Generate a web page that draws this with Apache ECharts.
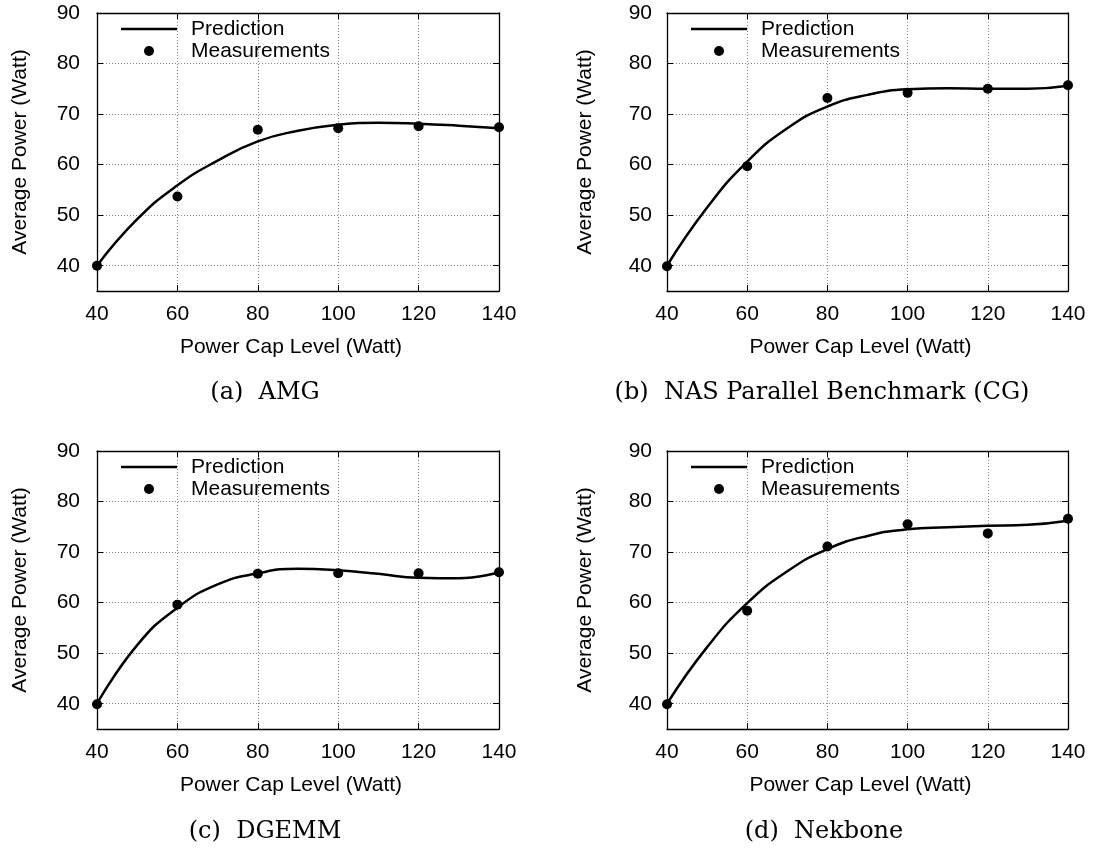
<!DOCTYPE html>
<html>
<head>
<meta charset="utf-8">
<script src="https://cdn.jsdelivr.net/npm/echarts@6/dist/echarts.min.js"></script>
<style>
  html, body { margin: 0; padding: 0; background: #fff; }
  #main { width: 1094px; height: 850px; }
</style>
</head>
<body>
<div id="main"></div>
<script>
// power cap levels where measurements were taken
const capLevels = [40, 60, 80, 100, 120, 140];
// levels where the fitted prediction curve is sampled
const fitLevels = [40, 50, 60, 70, 80, 90, 100, 110, 120, 130, 140];

const amgMeasured = [40.0, 53.7, 66.9, 67.2, 67.6, 67.4];
const amgPredicted = [40.0, 49.2, 55.9, 60.8, 64.6, 66.7, 67.9, 68.3, 68.1, 67.7, 67.2];

const cgMeasured = [39.9, 59.7, 73.2, 74.2, 75.0, 75.7];
const cgPredicted = [40.0, 51.5, 60.6, 67.2, 71.5, 73.8, 74.9, 75.1, 75.0, 75.0, 75.6];

const dgemmMeasured = [39.9, 59.6, 65.7, 65.8, 65.8, 66.0];
const dgemmPredicted = [40.0, 51.6, 59.0, 63.6, 65.8, 66.7, 66.4, 65.7, 64.9, 64.8, 66.0];

const nekMeasured = [39.9, 58.4, 71.1, 75.5, 73.7, 76.6];
const nekPredicted = [40.0, 51.2, 59.9, 66.2, 70.6, 73.2, 74.5, 74.9, 75.2, 75.4, 76.2];

const xTicks = [40, 60, 80, 100, 120, 140];
const captions = ['(a)  AMG', '(b)  NAS Parallel Benchmark (CG)', '(c)  DGEMM', '(d)  Nekbone'];

const font = 'Liberation Sans, Arial, Helvetica, sans-serif';
const serif = 'DejaVu Serif, Liberation Serif, serif';

// one panel per benchmark
const panels = [
  { left: 97, top: 13, width: 402, meas: amgMeasured, pred: amgPredicted, yGap: 66, yMargin: 17, capX: 265, capY: 393 },
  { left: 667, top: 13, width: 401, meas: cgMeasured, pred: cgPredicted, yGap: 71, yMargin: 15, capX: 822, capY: 393 },
  { left: 97, top: 451, width: 402, meas: dgemmMeasured, pred: dgemmPredicted, yGap: 66, yMargin: 17, capX: 265, capY: 832 },
  { left: 667, top: 451, width: 401, meas: nekMeasured, pred: nekPredicted, yGap: 71, yMargin: 15, capX: 824, capY: 832 }
];

function zip(xs, ys) {
  return xs.map((x, i) => [x, ys[i]]);
}

const grid = [], xAxis = [], yAxis = [], series = [], legend = [], graphic = [];

panels.forEach((p, i) => {
  grid.push({ left: p.left, top: p.top, width: p.width, height: 278 });

  const gridLine = { show: true, lineStyle: { color: '#8a8a8a', type: [1, 2], width: 1 } };
  const frame = { show: true, lineStyle: { color: '#000', width: 1.3 } };
  const tick = { show: true, inside: true, length: 6, lineStyle: { color: '#000', width: 1 } };

  // bottom / left axes with labels
  xAxis.push({
    gridIndex: i, type: 'value', min: 40, max: 140, interval: 20,
    name: 'Power Cap Level (Watt)', nameLocation: 'middle', nameGap: 46,
    nameTextStyle: { fontFamily: font, fontSize: 21, color: '#000', padding: [0, 14, 0, 0] },
    axisLine: frame, axisTick: tick, splitLine: gridLine,
    axisLabel: { fontFamily: font, fontSize: 21, color: '#000', margin: 13 }
  });
  yAxis.push({
    gridIndex: i, type: 'value', min: 35, max: 90, splitNumber: 5,
    name: 'Average Power (Watt)', nameLocation: 'middle', nameGap: p.yGap,
    nameTextStyle: { fontFamily: font, fontSize: 21, color: '#000' },
    axisLine: frame, axisTick: tick, splitLine: gridLine,
    axisLabel: { fontFamily: font, fontSize: 21, color: '#000', margin: p.yMargin, showMinLabel: false }
  });
  // mirrored top / right axes (frame + ticks only)
  xAxis.push({
    gridIndex: i, type: 'value', position: 'top', min: 40, max: 140, interval: 20,
    axisLine: frame, axisTick: tick, axisLabel: { show: false }, splitLine: { show: false }
  });
  yAxis.push({
    gridIndex: i, type: 'value', position: 'right', min: 35, max: 90, splitNumber: 5,
    axisLine: frame, axisTick: tick, axisLabel: { show: false }, splitLine: { show: false }
  });

  series.push({
    name: 'Prediction', type: 'line', xAxisIndex: i * 2, yAxisIndex: i * 2,
    data: zip(fitLevels, p.pred), smooth: 0.5, symbol: 'none',
    lineStyle: { color: '#000', width: 2.5 }, itemStyle: { color: '#000' }, z: 3
  });
  series.push({
    name: 'Measurements', type: 'scatter', xAxisIndex: i * 2, yAxisIndex: i * 2,
    data: zip(capLevels, p.meas), symbol: 'circle', symbolSize: 10,
    itemStyle: { color: '#000', opacity: 1 }, z: 4
  });

  const txt = { fontFamily: font, fontSize: 21, color: '#000', lineHeight: 22 };
  legend.push({
    orient: 'vertical', left: p.left + 24, top: p.top + 5, padding: 0,
    itemWidth: 56, itemHeight: 2.5, selectedMode: false,
    textStyle: Object.assign({ padding: [0, 0, 0, 9] }, txt),
    data: [{ name: 'Prediction', icon: 'rect' }]
  });
  legend.push({
    orient: 'vertical', left: p.left + 47, top: p.top + 27, padding: 0,
    itemWidth: 10, itemHeight: 10, selectedMode: false,
    textStyle: Object.assign({ padding: [0, 0, 0, 32] }, txt),
    data: [{ name: 'Measurements', icon: 'circle' }]
  });

  graphic.push({
    type: 'text', x: p.capX, y: p.capY,
    style: { text: captions[i], font: '24px ' + serif, fill: '#000', textAlign: 'center', textVerticalAlign: 'middle' }
  });
});

const chart = echarts.init(document.getElementById('main'), null, { renderer: 'canvas' });
chart.setOption({
  animation: false,
  backgroundColor: '#fff',
  grid: grid,
  xAxis: xAxis,
  yAxis: yAxis,
  legend: legend,
  series: series,
  graphic: graphic
});
</script>
</body>
</html>
